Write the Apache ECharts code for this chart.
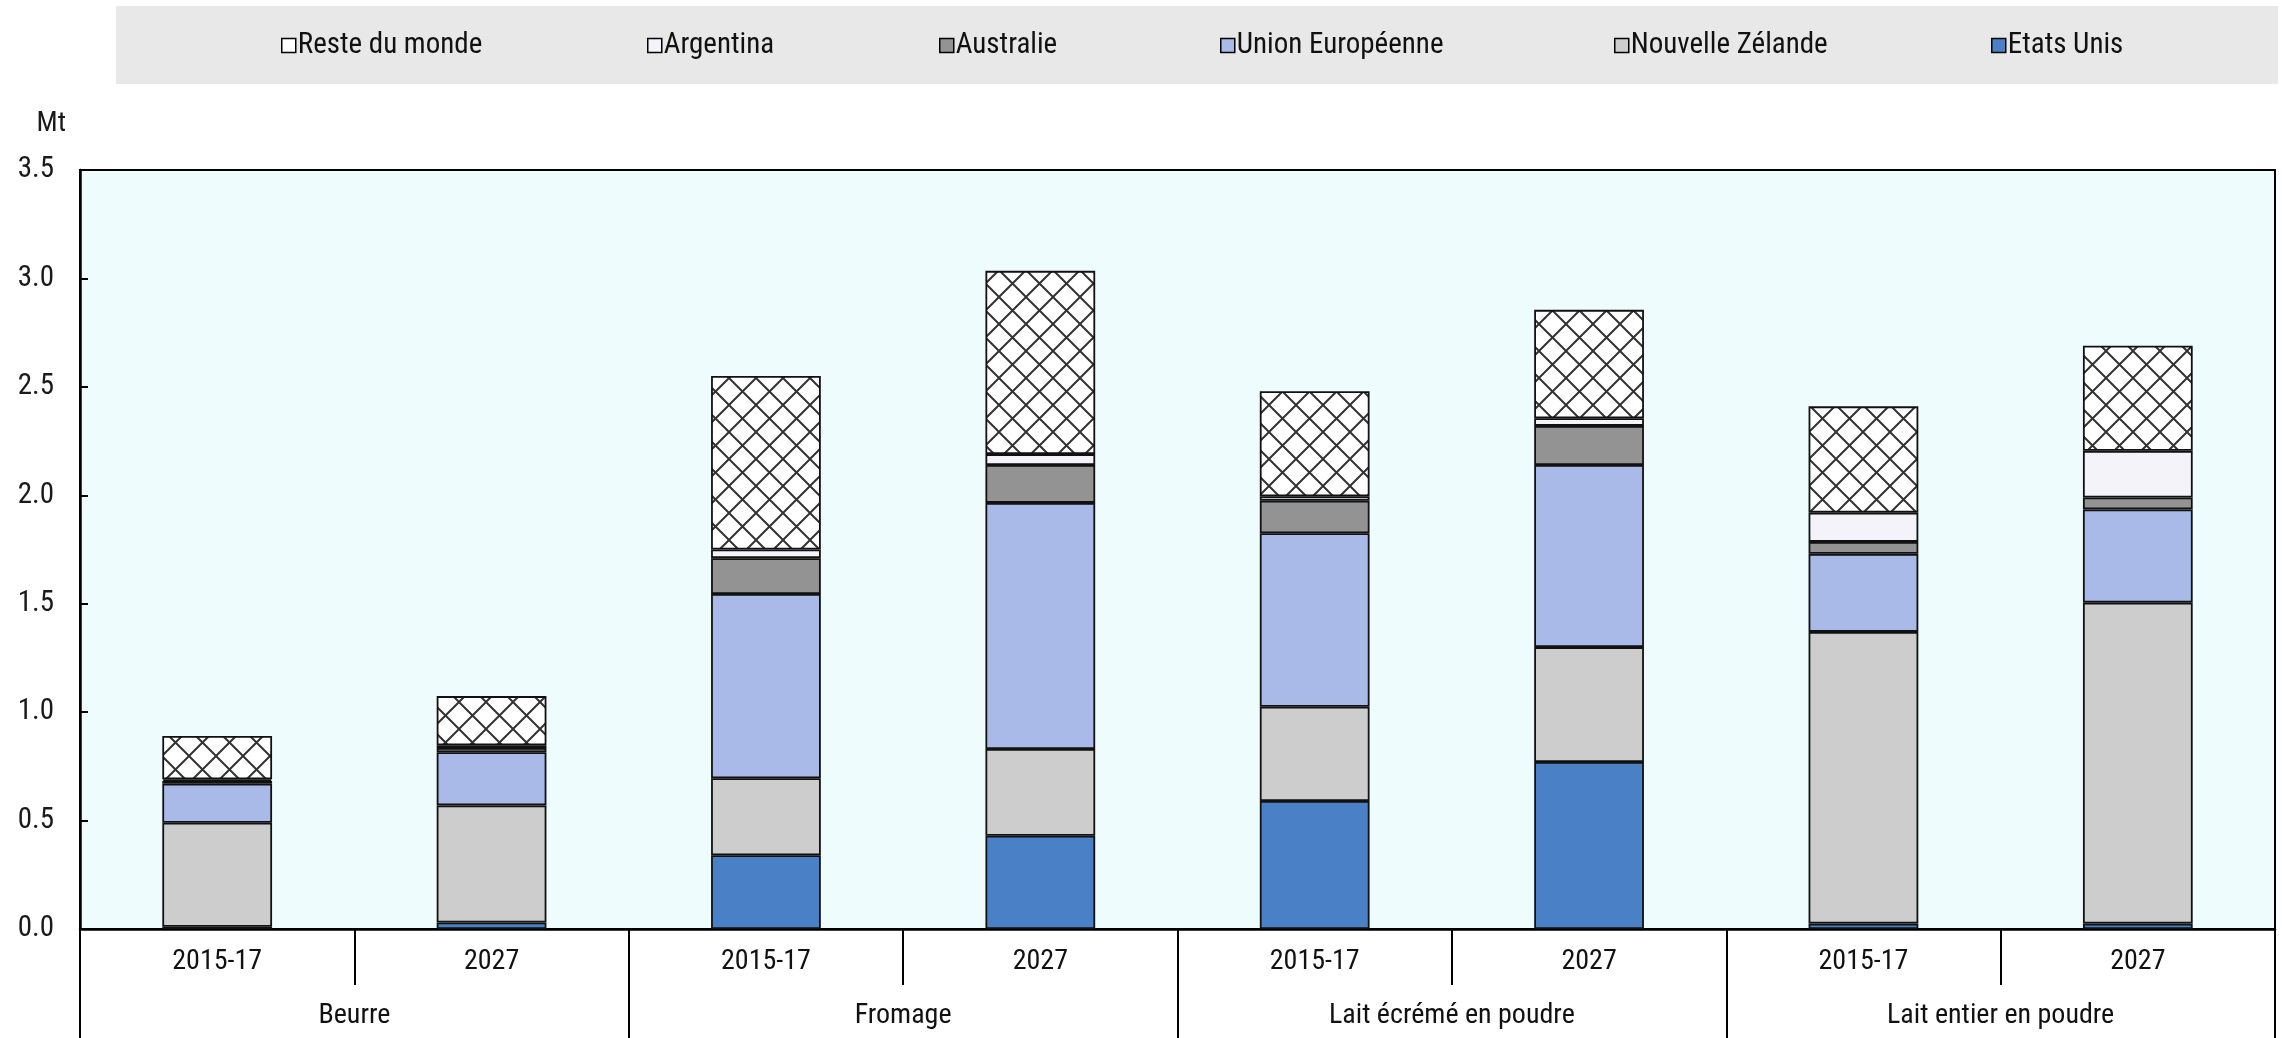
<!DOCTYPE html>
<html>
<head>
<meta charset="utf-8">
<script src="https://cdn.jsdelivr.net/npm/echarts@6/dist/echarts.min.js"></script>
<style>
  html, body { margin: 0; padding: 0; background: #ffffff; }
  #chart { width: 2282px; height: 1038px; }
</style>
</head>
<body>
<div id="chart"></div>
<script>
// Exportations mondiales de produits laitiers (Mt), par exportateur
const categories = ['2015-17', '2027', '2015-17', '2027', '2015-17', '2027', '2015-17', '2027'];
const groups = ['Beurre', 'Fromage', 'Lait écrémé en poudre', 'Lait entier en poudre'];
const yTicks = [0, 0.5, 1.0, 1.5, 2.0, 2.5, 3.0, 3.5];

const etatsUnis       = [0.01, 0.03, 0.34, 0.43, 0.59, 0.77, 0.025, 0.025];
const nouvelleZelande = [0.48, 0.54, 0.355, 0.40, 0.435, 0.53, 1.345, 1.48];
const unionEuropeenne = [0.18, 0.245, 0.85, 1.135, 0.80, 0.84, 0.36, 0.43];
const australie       = [0.012, 0.02, 0.165, 0.175, 0.15, 0.18, 0.055, 0.055];
const argentine       = [0.008, 0.012, 0.04, 0.05, 0.02, 0.035, 0.135, 0.215];
const resteDuMonde    = [0.20, 0.227, 0.80, 0.845, 0.485, 0.50, 0.49, 0.485];

// legend entries, in display order, with the left edge of each entry
const legendNames = ['Reste du monde', 'Argentina', 'Australie', 'Union Européenne', 'Nouvelle Zélande', 'Etats Unis'];
const legendLeft  = [281, 647, 939, 1220, 1614, 1991];

const font = { fontFamily: 'Roboto, "Liberation Sans", sans-serif', fontStyle: 'condensed' };

// cross-hatch tile for "Reste du monde"
function hatchTile() {
  const s = 27;
  const c = document.createElement('canvas');
  c.width = s; c.height = s;
  const g = c.getContext('2d');
  g.fillStyle = '#ffffff';
  g.fillRect(0, 0, s, s);
  g.strokeStyle = '#333333';
  g.lineWidth = 2;
  g.beginPath();
  g.moveTo(-1, -1); g.lineTo(s + 1, s + 1);
  g.moveTo(s + 1, -1); g.lineTo(-1, s + 1);
  g.stroke();
  return c;
}

function bar(name, data, color) {
  return {
    name: name,
    type: 'bar',
    stack: 'total',
    barWidth: '40%',
    data: data,
    itemStyle: { color: color, borderColor: '#111111', borderWidth: 1.8 },
    emphasis: { disabled: true }
  };
}

const legends = legendNames.map((name, i) => ({
  top: 31,
  left: legendLeft[i],
  padding: 0,
  itemWidth: 14,
  itemHeight: 14,
  icon: 'rect',
  itemStyle: { borderColor: '#000000', borderWidth: 1.5 },
  textStyle: Object.assign({ fontSize: 29, color: '#111111', padding: [0, 0, 0, -3] }, font),
  data: [i === 0 ? { name: name, itemStyle: { color: '#ffffff' } } : { name: name }]
}));

const chart = echarts.init(document.getElementById('chart'), null, { renderer: 'canvas' });

chart.setOption({
  animation: false,
  backgroundColor: '#ffffff',
  graphic: [{
    type: 'rect',
    left: 116, top: 6,
    shape: { width: 2162, height: 78 },
    style: { fill: '#e8e8e8' },
    z: -10
  }],
  legend: legends,
  grid: {
    left: 80, right: 7, top: 170, bottom: 109,
    show: true,
    backgroundColor: '#effcfe',
    borderColor: '#000000',
    borderWidth: 2
  },
  xAxis: [{
    type: 'category',
    data: categories,
    position: 'bottom',
    axisLine: { lineStyle: { color: '#000000', width: 2.5 } },
    axisTick: { show: true, length: 56, lineStyle: { color: '#000000', width: 2 } },
    axisLabel: Object.assign({ margin: 19, fontSize: 28, color: '#111111' }, font)
  }, {
    type: 'category',
    data: groups,
    position: 'bottom',
    axisLine: { show: false },
    axisTick: { show: true, length: 112, lineStyle: { color: '#000000', width: 2 } },
    axisLabel: Object.assign({ margin: 73, fontSize: 28, color: '#111111' }, font)
  }],
  yAxis: {
    type: 'value',
    min: 0, max: 3.5, interval: 0.5,
    name: 'Mt',
    nameLocation: 'end',
    nameGap: 32,
    nameTextStyle: Object.assign({ fontSize: 28, color: '#1a1a1a', align: 'right', padding: [0, 14, 0, 0] }, font),
    axisLine: { show: true, lineStyle: { color: '#000000', width: 2.5 } },
    axisTick: { show: true, inside: true, length: 8, lineStyle: { color: '#000000', width: 2 } },
    splitLine: { show: false },
    axisLabel: Object.assign({
      margin: 26, fontSize: 29, color: '#1a1a1a',
      formatter: v => yTicks.includes(v) ? v.toFixed(1) : ''
    }, font)
  },
  series: [
    bar('Etats Unis', etatsUnis, '#4a80c6'),
    bar('Nouvelle Zélande', nouvelleZelande, '#cdcdcd'),
    bar('Union Européenne', unionEuropeenne, '#a9b9e8'),
    bar('Australie', australie, '#939393'),
    bar('Argentina', argentine, '#f3f3f9'),
    bar('Reste du monde', resteDuMonde, { image: hatchTile(), repeat: 'repeat' })
  ]
});
</script>
</body>
</html>
